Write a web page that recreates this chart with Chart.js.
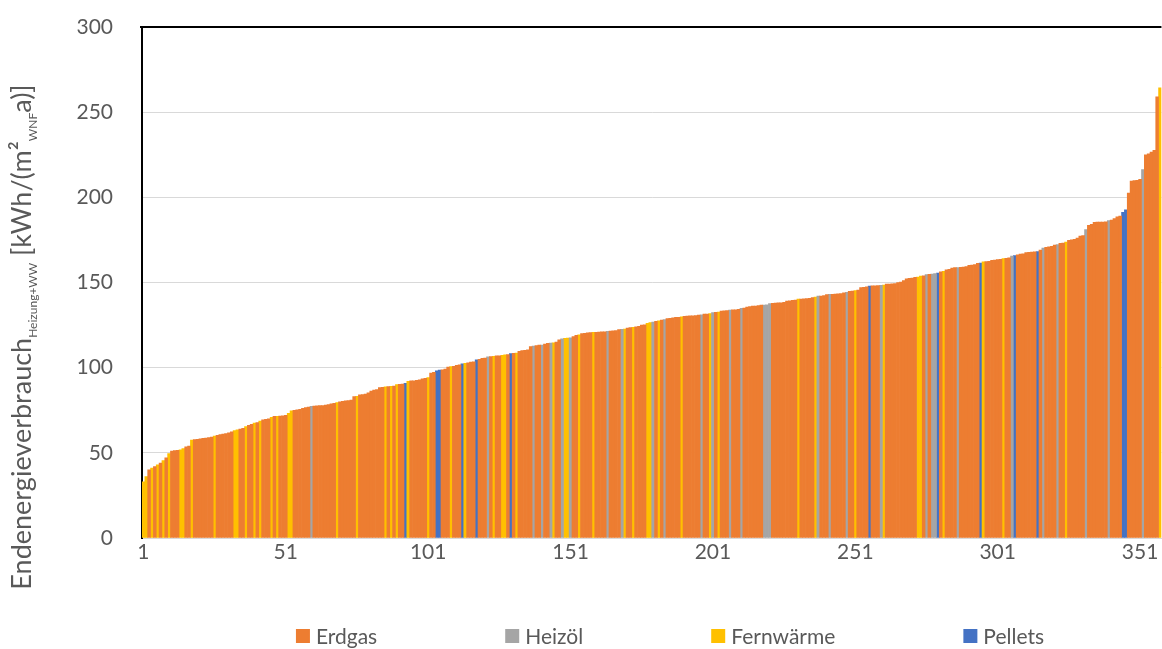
<!DOCTYPE html>
<html lang="de">
<head>
  <meta charset="UTF-8">
  <title>Endenergieverbrauch</title>
  <script src="https://cdn.jsdelivr.net/npm/chart.js"></script>
  <style>
    html, body { margin: 0; padding: 0; background: #fff; }
    #wrap { width: 1162px; height: 649px; }
  </style>
</head>
<body>
<div id="wrap"><canvas id="verbrauchChart" width="1162" height="649"></canvas></div>

<script>
  // Endenergieverbrauch je Gebäude, aufsteigend sortiert [kWh/(m² a)]
  const werte = [
    33, 36, 40, 41, 42, 43, 44, 45.5, 47, 49.5,
    51, 51.3, 51.5, 51.8, 52.5, 53.5, 54, 57.5, 57.8, 58,
    58.2, 58.5, 58.7, 59, 59.3, 59.8, 60.3, 60.7, 61, 61.3,
    61.8, 62.3, 63, 63.5, 64, 64.4, 65.4, 66.2, 66.8, 67.5,
    67.8, 68.7, 69.4, 69.7, 70, 70.9, 71.4, 71.5, 71.6, 71.7,
    72, 73.2, 74.6, 75, 75.3, 75.6, 76.2, 76.5, 76.8, 77.3,
    77.5, 77.6, 77.7, 77.8, 78, 78.3, 78.7, 79, 79.5, 80,
    80.3, 80.5, 80.7, 81, 83, 83.2, 84, 84.2, 84.5, 85.3,
    86.3, 86.9, 87.2, 88.3, 88.5, 88.8, 88.9, 89, 89.2, 90,
    90.2, 90.4, 90.8, 92, 92.2, 92.3, 92.5, 92.8, 93.5, 93.8,
    94.2, 96.8, 97.3, 98.2, 98.6, 98.8, 99.2, 100.3, 100.6, 100.8,
    101.4, 101.6, 102.3, 102.6, 102.8, 103.3, 103.5, 104.6, 104.9, 105.5,
    105.7, 106.3, 106.5, 106.7, 106.9, 107, 107.3, 107.5, 107.7, 108.2,
    108.4, 108.6, 109.6, 110, 110.2, 110.5, 112.4, 112.7, 112.9, 113.2,
    113.3, 113.8, 114.3, 114.4, 114.6, 115, 116.3, 116.9, 117.2, 117.3,
    117.5, 118.2, 119, 119.3, 120, 120.2, 120.5, 120.6, 120.7, 120.8,
    120.9, 121, 121.1, 121.4, 121.5, 121.6, 121.8, 122.3, 122.5, 122.7,
    123.3, 123.5, 123.7, 124, 124.2, 125, 125.2, 126, 126.5, 126.7,
    127.2, 127.5, 128, 128.2, 128.8, 129, 129.2, 129.5, 129.6, 129.8,
    130.1, 130.3, 130.4, 130.5, 130.6, 130.9, 131, 131.4, 131.5, 131.7,
    132.3, 132.5, 132.7, 133.2, 133.3, 133.5, 133.8, 133.9, 134, 134.2,
    134.8, 135, 135.5, 135.8, 136.1, 136.2, 136.4, 136.7, 136.8, 136.9,
    137.6, 137.8, 137.9, 138, 138.1, 138.4, 139.1, 139.3, 139.5, 139.7,
    140.2, 140.3, 140.4, 140.5, 140.7, 141.2, 141.4, 142, 142.1, 142.3,
    142.9, 143, 143.1, 143.2, 143.3, 143.5, 144, 144.2, 144.8, 145,
    145.2, 145.5, 147, 147.2, 147.4, 147.9, 148, 148.1, 148.2, 148.3,
    148.5, 149, 149.1, 149.2, 149.4, 150, 150.3, 151.1, 152.2, 152.4,
    152.6, 153, 153.2, 153.7, 153.9, 154.6, 154.8, 155, 155.3, 155.5,
    156.3, 156.5, 157.5, 157.8, 158.5, 158.7, 158.8, 158.9, 159.1, 159.4,
    160.1, 160.3, 160.5, 161.2, 161.4, 162.1, 162.3, 162.5, 163, 163.2,
    163.4, 163.6, 164, 164.2, 164.5, 165.5, 165.8, 166.2, 166.7, 166.9,
    167.5, 167.7, 167.9, 168, 168.2, 169.1, 170.2, 170.6, 171, 171.2,
    172, 172.2, 173, 173.1, 173.7, 174.8, 175.1, 175.4, 176.1, 177.2,
    177.6, 181, 183.5, 184.2, 185.3, 185.4, 185.5, 185.5, 185.6, 186.3,
    186.6, 187.5, 188.5, 189, 191.2, 192.7, 202.5, 209.5, 209.8, 210,
    210.5, 216.3, 225, 225.5, 226.5, 227.6, 259, 264.3
  ];

  // Gebäude-Nummern (1-basiert) nach Energieträger; alle übrigen: Erdgas
  const heizoelNr = [60, 122, 138, 141, 144, 148, 151, 164, 169, 180, 184, 197, 201, 207, 211,
    219, 220, 221, 238, 242, 248, 260, 276, 278, 279, 287, 306, 317, 322, 332, 340, 352];
  const fernwaermeNr = [1, 2, 4, 6, 8, 10, 14, 15, 18, 26, 33, 34, 37, 40, 42, 46, 48, 52, 53, 69,
    76, 86, 88, 90, 94, 101, 109, 114, 124, 127, 128, 132, 145, 149, 150, 154, 159, 170, 173,
    178, 179, 182, 190, 200, 203, 231, 237, 251, 261, 273, 274, 282, 296, 303, 325, 358];
  const pelletsNr = [93, 104, 105, 113, 118, 130, 256, 280, 295, 307, 315, 345, 346];

  const traeger = ['Erdgas', 'Heizöl', 'Fernwärme', 'Pellets'];
  const farben = ['#ED7D31', '#A5A5A5', '#FFC000', '#4472C4'];

  const xTickLabels = ['1', '51', '101', '151', '201', '251', '301', '351'];

  const nummern = werte.map((_, i) => String(i + 1));

  function traegerVon(nr) {
    if (heizoelNr.includes(nr)) return 'Heizöl';
    if (fernwaermeNr.includes(nr)) return 'Fernwärme';
    if (pelletsNr.includes(nr)) return 'Pellets';
    return 'Erdgas';
  }

  const datasets = traeger.map((t, k) => ({
    label: t,
    data: werte.map((v, i) => traegerVon(i + 1) === t ? v : null),
    backgroundColor: farben[k],
    borderWidth: 0,
    barPercentage: 1,
    categoryPercentage: 1
  }));

  const fontFam = 'Lato, "Open Sans", sans-serif';
  const grau = '#595959';

  // Y-Achsentitel mit tiefgestellten Teilen
  const yTitel = {
    id: 'yTitel',
    afterDraw(chart) {
      const ctx = chart.ctx;
      const teile = [
        ['Endenergieverbrauch', 27, 0],
        ['Heizung+WW', 12, 6],
        [' [kWh/(m²', 27, 0],
        ['WNF', 12, 6],
        ['a)]', 27, 0]
      ];
      ctx.save();
      let gesamt = 0;
      teile.forEach(p => { ctx.font = p[1] + 'px ' + fontFam; gesamt += ctx.measureText(p[0]).width; });
      ctx.translate(31, 337);
      ctx.rotate(-Math.PI / 2);
      ctx.fillStyle = grau;
      ctx.textBaseline = 'alphabetic';
      let x = -gesamt / 2;
      teile.forEach(p => {
        ctx.font = p[1] + 'px ' + fontFam;
        ctx.fillText(p[0], x, p[2]);
        x += ctx.measureText(p[0]).width;
      });
      ctx.restore();
    }
  };

  // Rahmenlinie oben
  const rahmen = {
    id: 'rahmen',
    afterDraw(chart) {
      const a = chart.chartArea, ctx = chart.ctx;
      ctx.save();
      ctx.strokeStyle = '#000';
      ctx.lineWidth = 2;
      ctx.beginPath();
      ctx.moveTo(a.left - 2, a.top);
      ctx.lineTo(a.right, a.top);
      ctx.stroke();
      ctx.restore();
    }
  };

  // Legende unten
  const legende = {
    id: 'legende',
    afterDraw(chart) {
      const ctx = chart.ctx;
      ctx.save();
      ctx.font = '21px ' + fontFam;
      const box = 14, abstandText = 6, abstandItem = 128;
      const items = chart.data.datasets.map(d => ({
        text: d.label, color: d.backgroundColor,
        w: box + abstandText + ctx.measureText(d.label).width
      }));
      const gesamt = items.reduce((s, it) => s + it.w, 0) + abstandItem * (items.length - 1);
      let x = 670 - gesamt / 2;
      const y = 636;
      ctx.textBaseline = 'middle';
      items.forEach(it => {
        ctx.fillStyle = it.color;
        ctx.fillRect(x, y - box / 2, box, box);
        ctx.fillStyle = grau;
        ctx.fillText(it.text, x + box + abstandText, y + 1);
        x += it.w + abstandItem;
      });
      ctx.restore();
    }
  };

  const ctx = document.getElementById('verbrauchChart').getContext('2d');
  const verbrauchChart = new Chart(ctx, {
    type: 'bar',
    data: { labels: nummern, datasets: datasets },
    plugins: [yTitel, rahmen, legende],
    options: {
      responsive: false,
      animation: false,
      layout: { padding: { left: 0, top: 27, right: 0, bottom: 71 } },
      plugins: {
        legend: { display: false },
        tooltip: { enabled: false }
      },
      scales: {
        x: {
          stacked: true,
          grid: { display: false, drawTicks: false },
          border: { color: '#d9d9d9', width: 1 },
          ticks: {
            autoSkip: false,
            maxRotation: 0,
            padding: 2,
            color: grau,
            font: { family: fontFam, size: 21 },
            callback: function (val) {
              const l = this.getLabelForValue(val);
              return xTickLabels.includes(l) ? l : '';
            }
          },
          afterFit: s => { s.height = 40; }
        },
        y: {
          stacked: true,
          min: 0,
          max: 300,
          grid: { color: '#d9d9d9', lineWidth: 1, drawTicks: true, tickLength: 29, tickColor: 'rgba(0,0,0,0)' },
          border: { color: '#000', width: 2 },
          ticks: {
            stepSize: 50,
            padding: 0,
            color: grau,
            font: { family: fontFam, size: 21 }
          },
          afterFit: s => { s.width = 142; }
        }
      }
    }
  });
</script>
</body>
</html>
